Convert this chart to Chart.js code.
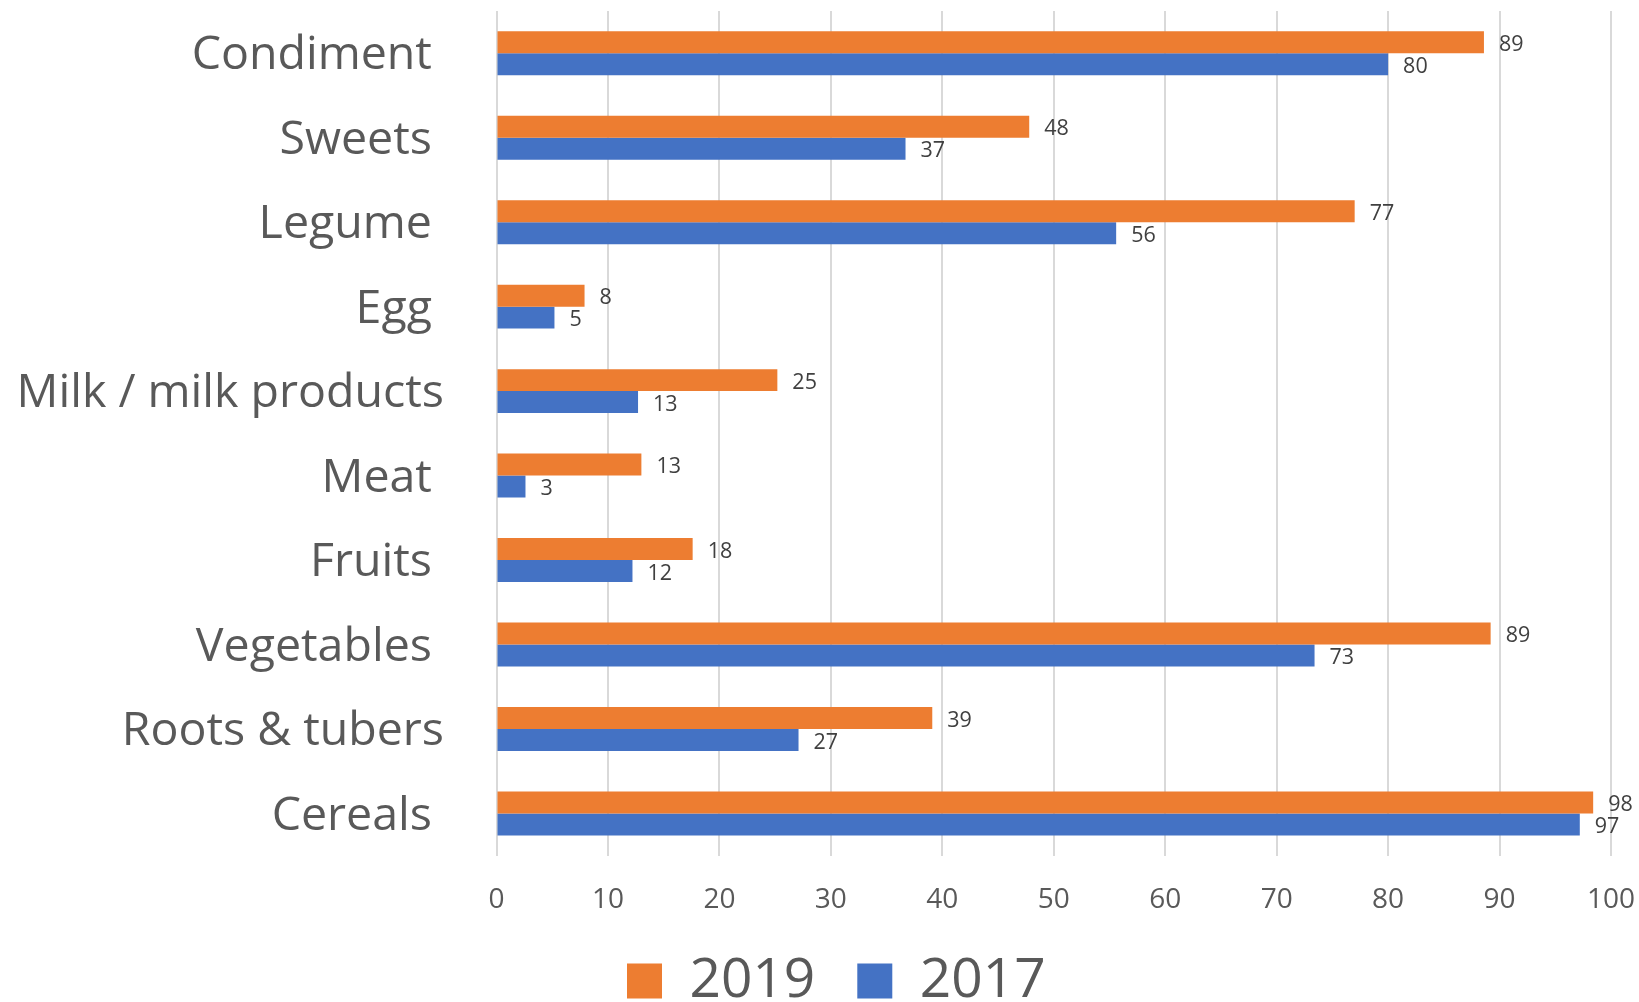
<!DOCTYPE html>
<html>
<head>
<meta charset="utf-8">
<script src="https://cdn.jsdelivr.net/npm/chart.js@4.4.1/dist/chart.umd.min.js"></script>
<style>
  html, body { margin: 0; padding: 0; background: #ffffff; }
  #wrap { width: 1639px; height: 1002px; }
</style>
</head>
<body>
<div id="wrap"><canvas id="c" width="1639" height="1002"></canvas></div>
<script>
// ---- data ----
const categories = ['Condiment', 'Sweets', 'Legume', 'Egg', 'Milk / milk products', 'Meat', 'Fruits', 'Vegetables', 'Roots & tubers', 'Cereals'];
const series2019 = [88.6, 47.8, 77.0, 7.9, 25.2, 13.0, 17.6, 89.2, 39.1, 98.4];
const series2017 = [80.0, 36.7, 55.6, 5.2, 12.7, 2.6, 12.2, 73.4, 27.1, 97.2];
const seriesNames = ['2019', '2017'];
const xMin = 0, xMax = 100, xStep = 10;

// ---- styling / layout ----
const FONT = "'Open Sans', sans-serif";
const LEGEND_X = 627;

const valueLabels = {
  id: 'valueLabels',
  afterDatasetsDraw(chart) {
    const ctx = chart.ctx;
    ctx.save();
    ctx.font = "21.5px " + FONT;
    ctx.fillStyle = '#404040';
    ctx.textAlign = 'left';
    ctx.textBaseline = 'middle';
    chart.data.datasets.forEach((ds, i) => {
      chart.getDatasetMeta(i).data.forEach((bar, j) => {
        ctx.fillText(String(Math.round(ds.data[j])), bar.x + 15, bar.y + 2.5);
      });
    });
    ctx.restore();
  }
};

const legendShift = {
  id: 'legendShift',
  afterLayout(chart) {
    const l = chart.legend;
    if (!l || !l.lineWidths) return;
    const p = l.options.labels.padding;
    const content = l.lineWidths[0] - p;
    const start = (l.left + l.right - content) / 2;
    const d = LEGEND_X - start;
    l.left += d;
    l.right += d;
  }
};

Chart.defaults.font.family = FONT;

new Chart(document.getElementById('c'), {
  type: 'bar',
  data: {
    labels: categories,
    datasets: [
      { label: seriesNames[0], data: series2019, backgroundColor: '#ED7D31', borderWidth: 0,
        categoryPercentage: 0.52, barPercentage: 1.0 },
      { label: seriesNames[1], data: series2017, backgroundColor: '#4472C4', borderWidth: 0,
        categoryPercentage: 0.52, barPercentage: 1.0 }
    ]
  },
  options: {
    indexAxis: 'y',
    responsive: false,
    animation: false,
    devicePixelRatio: 1,
    layout: { padding: { top: 11, right: 28, bottom: 0, left: 0 } },
    scales: {
      x: {
        min: xMin, max: xMax,
        ticks: { stepSize: xStep, color: '#595959', font: { size: 28 }, padding: 28 },
        grid: { color: '#D9D9D9', lineWidth: 2, drawTicks: false },
        border: { display: false },
        afterFit(scale) { scale.height = 55.8; scale.paddingLeft = 0; scale.paddingRight = 0; }
      },
      y: {
        ticks: {
          color: '#595959', font: { size: 46.5 }, padding: 52.5, autoSkip: false, labelOffset: 3,
          callback(value) {
            const l = this.getLabelForValue(value);
            return l.includes(' ') ? l : l + ' ';
          }
        },
        grid: { display: false, drawTicks: false },
        border: { display: false },
        afterFit(scale) { scale.width = 496.5; scale.paddingTop = 0; scale.paddingBottom = 0; }
      }
    },
    plugins: {
      legend: {
        position: 'bottom',
        maxHeight: 90.5,
        labels: { color: '#595959', font: { size: 55 }, boxWidth: 35, boxHeight: 35, padding: 42 }
      },
      tooltip: { enabled: false },
      title: { display: false }
    }
  },
  plugins: [valueLabels, legendShift]
});
</script>
</body>
</html>
